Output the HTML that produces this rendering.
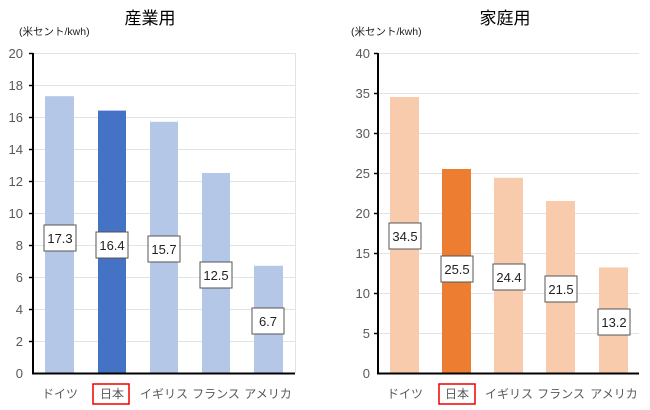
<!DOCTYPE html><html><head><meta charset="utf-8"><style>body{margin:0;background:#fff}svg{display:block}text{font-family:"Liberation Sans","Noto Sans CJK JP",sans-serif}</style></head><body>
<svg width="650" height="410" xmlns="http://www.w3.org/2000/svg">
<g font-size="17" text-anchor="middle" fill="#000"><text x="150" y="24">産業用</text><text x="505" y="24">家庭用</text></g>
<g font-size="10.5" fill="#222"><text x="19" y="35">(米セント/kwh)</text><text x="351" y="35">(米セント/kwh)</text></g>
<g stroke="#e3e3e3" stroke-width="1">
<line x1="33" x2="295" y1="53.5" y2="53.5"/><line x1="33" x2="295" y1="85.5" y2="85.5"/><line x1="33" x2="295" y1="117.5" y2="117.5"/><line x1="33" x2="295" y1="149.5" y2="149.5"/><line x1="33" x2="295" y1="181.5" y2="181.5"/><line x1="33" x2="295" y1="213.5" y2="213.5"/><line x1="33" x2="295" y1="245.5" y2="245.5"/><line x1="33" x2="295" y1="277.5" y2="277.5"/><line x1="33" x2="295" y1="309.5" y2="309.5"/><line x1="33" x2="295" y1="341.5" y2="341.5"/>
<line x1="295.5" x2="295.5" y1="53" y2="373"/>
<line x1="378" x2="639" y1="53.5" y2="53.5"/><line x1="378" x2="639" y1="93.5" y2="93.5"/><line x1="378" x2="639" y1="133.5" y2="133.5"/><line x1="378" x2="639" y1="173.5" y2="173.5"/><line x1="378" x2="639" y1="213.5" y2="213.5"/><line x1="378" x2="639" y1="253.5" y2="253.5"/><line x1="378" x2="639" y1="293.5" y2="293.5"/><line x1="378" x2="639" y1="333.5" y2="333.5"/>
</g>
<g font-size="13" fill="#595959" text-anchor="end">
<text x="23" y="58">20</text><text x="23" y="90">18</text><text x="23" y="122">16</text><text x="23" y="154">14</text><text x="23" y="186">12</text><text x="23" y="218">10</text><text x="23" y="250">8</text><text x="23" y="282">6</text><text x="23" y="314">4</text><text x="23" y="346">2</text><text x="23" y="378">0</text>
<text x="370" y="58">40</text><text x="370" y="98">35</text><text x="370" y="138">30</text><text x="370" y="178">25</text><text x="370" y="218">20</text><text x="370" y="258">15</text><text x="370" y="298">10</text><text x="370" y="338">5</text><text x="370" y="378">0</text>
</g>
<g>
<rect x="45" y="96.2" width="29" height="276.8" fill="#b4c7e7"/>
<rect x="98" y="110.6" width="28" height="262.4" fill="#4472c4"/>
<rect x="150" y="121.8" width="28" height="251.2" fill="#b4c7e7"/>
<rect x="202" y="173" width="28" height="200" fill="#b4c7e7"/>
<rect x="254" y="265.8" width="29" height="107.2" fill="#b4c7e7"/>
<rect x="390" y="97" width="29" height="276" fill="#f8cbad"/>
<rect x="442" y="169" width="29" height="204" fill="#ed7d31"/>
<rect x="494" y="177.8" width="29" height="195.2" fill="#f8cbad"/>
<rect x="546" y="201" width="29" height="172" fill="#f8cbad"/>
<rect x="599" y="267.4" width="29" height="105.6" fill="#f8cbad"/>
</g>
<g stroke="#000" stroke-width="2"><line x1="33" x2="33" y1="53" y2="374"/><line x1="32" x2="295" y1="373.5" y2="373.5"/><line x1="378" x2="378" y1="53" y2="374"/><line x1="377" x2="639" y1="373.5" y2="373.5"/></g>
<g stroke="#000" stroke-width="1.5"><line x1="29" x2="33" y1="53.5" y2="53.5"/><line x1="29" x2="33" y1="85.5" y2="85.5"/><line x1="29" x2="33" y1="117.5" y2="117.5"/><line x1="29" x2="33" y1="149.5" y2="149.5"/><line x1="29" x2="33" y1="181.5" y2="181.5"/><line x1="29" x2="33" y1="213.5" y2="213.5"/><line x1="29" x2="33" y1="245.5" y2="245.5"/><line x1="29" x2="33" y1="277.5" y2="277.5"/><line x1="29" x2="33" y1="309.5" y2="309.5"/><line x1="29" x2="33" y1="341.5" y2="341.5"/>
<line x1="374" x2="378" y1="53.5" y2="53.5"/><line x1="374" x2="378" y1="93.5" y2="93.5"/><line x1="374" x2="378" y1="133.5" y2="133.5"/><line x1="374" x2="378" y1="173.5" y2="173.5"/><line x1="374" x2="378" y1="213.5" y2="213.5"/><line x1="374" x2="378" y1="253.5" y2="253.5"/><line x1="374" x2="378" y1="293.5" y2="293.5"/><line x1="374" x2="378" y1="333.5" y2="333.5"/></g>
<g fill="#fff" stroke="#555" stroke-width="1">
<rect x="44" y="225" width="32" height="26"/><rect x="96" y="232" width="32" height="26"/><rect x="148" y="236" width="32" height="26"/><rect x="200" y="262" width="32" height="26"/><rect x="252" y="308" width="32" height="26"/>
<rect x="389" y="223" width="32" height="26"/><rect x="441" y="256" width="32" height="26"/><rect x="493" y="264" width="32" height="26"/><rect x="545" y="276" width="32" height="26"/><rect x="598" y="309" width="32" height="26"/>
</g>
<g font-size="13" fill="#222" text-anchor="middle">
<text x="60" y="243">17.3</text><text x="112" y="250">16.4</text><text x="164" y="254">15.7</text><text x="216" y="280">12.5</text><text x="268" y="326">6.7</text>
<text x="405" y="241">34.5</text><text x="457" y="274">25.5</text><text x="509" y="282">24.4</text><text x="561" y="294">21.5</text><text x="614" y="327">13.2</text>
</g>
<g font-size="12" fill="#595959" text-anchor="middle">
<text x="60" y="398">ドイツ</text><text x="112" y="398">日本</text><text x="164" y="398">イギリス</text><text x="216" y="398">フランス</text><text x="268" y="398">アメリカ</text>
<text x="405" y="398">ドイツ</text><text x="457" y="398">日本</text><text x="509" y="398">イギリス</text><text x="561" y="398">フランス</text><text x="614" y="398">アメリカ</text>
</g>
<g fill="none" stroke="#e00" stroke-width="1.5"><rect x="93" y="384" width="36" height="20"/><rect x="439" y="384" width="36" height="20"/></g>
</svg></body></html>
